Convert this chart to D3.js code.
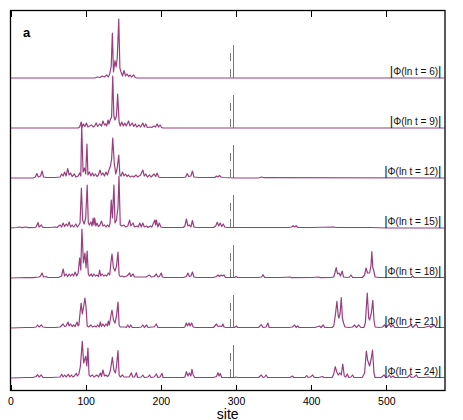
<!DOCTYPE html>
<meta charset="utf-8">
<style>
body { margin: 0; background: #fff; }
svg text { font-family: "Liberation Sans", Arial, sans-serif; }
.curve { fill: none; stroke: #983f80; stroke-width: 1.2; stroke-linejoin: round; }
.marker { stroke: #777; stroke-width: 1; shape-rendering: crispEdges; }
.tick line { shape-rendering: crispEdges; }
</style>
<body>
<div id="chart"></div>
<script src="https://cdn.jsdelivr.net/npm/d3@7"></script>
<script>

// |Phi| per site as [site, amplitude] pairs (amplitude in arbitrary units)
var phi6 = [[0,0],[112,0],[116,1],[119,0.5],[122,2],[125,1],[128,3],[130,1],[132,4],[134,12],[135.5,45],[137,6],
  [139,17.5],[140.5,11],[142,20],[144,59],[145.5,10],[147,6],[149,2],[151,7.5],[153,2],[155,4],[157,1.5],
  [159,3],[161,1],[164,3],[166,0.5],[168,0],[577,0]];

var phi9 = [[0,0],[90,0],[92,1],[94,6],[95.5,1],[97,4],[99,1.5],[101,5],[103,1],[105,2],[108,3],[110,1],
  [112,2],[114,5],[116,1.5],[118.6,4],[121,2],[123,7],[125,3],[126.6,4],[128,2],[129.7,8],[131,4],[132.5,8],
  [134.5,11],[136,52],[137.5,12],[139,8],[141,12],[142.5,34],[144.5,6],[146,2],[148,6],[150,2],[152,5],
  [154,2],[157,7],[159,2],[162,5],[164,1.5],[166,4],[168,1],[171,3],[173,1],[176,5],[178,1],[180,4],
  [182,0.5],[186,1],[188,0.5],[191,2],[193,1],[195,4],[197,1],[199,3],[201,0.5],[203,0],[577,0]];

var phi12 = [[0,0],[30,0],[33,1],[35,4.5],[37,1],[40,2],[42,7],[44,1],[48,0.5],[60,0.5],[66,1],[68,4],
  [70,2],[72,6],[74,2],[76,9.5],[78,3],[80,5],[82,1.5],[85,4],[87,1],[90,2],[92,5],[93.5,2],[94.7,53],
  [96.5,6],[98.5,10],[100,4],[101.7,34],[103,3],[105,6],[107,2],[109,5],[111,2],[113,4],[115,1.5],[117,3],
  [119,8],[121,3],[123,5],[125,2],[127,6],[129,3],[131,8],[133,12],[134.5,19],[136,40],[138,15],[140,4],
  [142,10],[144,23],[145.5,3],[147,2],[149,6],[151,2],[153,4],[155,1.5],[157,3],[159,1],[162,2],[164,1],
  [167,3],[169,1],[173,3],[176,8],[178,2],[180,4],[182,1],[185,3],[187,1],[191,4],[193,1.5],[195,5],
  [197,1],[200,0.5],[230,0.5],[233,1],[235,4.5],[237,1.5],[240,2],[242,7],[244,1],[250,0.5],[272,0.5],
  [274,2],[276,1],[278,2.5],[280,1],[283,0.5],[300,0],[330,0],[334,1],[337,0.3],[577,0]];

var phi15 = [[0,0],[8,0.5],[12,1],[16,0.3],[20,1],[24,0.3],[32,0.5],[34,1],[36.6,5.5],[38,1],[41,3],
  [43,0.5],[52,0.5],[60,1],[62,0.5],[66,3],[68,1],[70,5],[72,1.5],[74,4],[76,2],[78,6],[80,1],[82,3],
  [84,1],[87,4],[89,1],[91,3],[92.5,5],[94.3,40],[96,8],[98,4],[100,10],[102,43],[103.5,5],[105,3],
  [107,6],[108.5,2],[110,10],[111,3],[112,10],[113.5,2],[115,5],[117,1.5],[119,3],[121,7],[123,2],
  [125,3],[127,1],[129,3],[131,1],[132.5,5],[134,28],[135.5,10],[137.6,43],[139,5],[141,8],[143,21],
  [144.3,52],[146,3],[148,2],[151,3],[153,1],[156,2],[158.5,8],[160,2],[163,5],[165,1],[168,2],[170,1],
  [172,5],[174,1],[176,5],[178,1],[181,2],[183,0.5],[186,2],[188,1],[192,8],[193,3],[194,8],[196,1],
  [198,5],[200,1],[203,0.5],[230,0.5],[232,2],[234,9],[236,2],[238,3],[240,1],[242,7.5],[244,1],
  [248,0.5],[270,0.5],[273,2],[275,5.7],[277,2],[279,5],[281,1.5],[283,4],[285,1],[288,0.5],[300,0.5],
  [320,0.5],[340,0.5],[370,0.5],[374,1],[376,2.3],[378,1],[380,2.3],[382,0.5],[400,0.5],[430,1],
  [433,0.5],[460,0.5],[480,0.5],[500,0],[577,0]];

var phi18 = [[0,0],[20,0.5],[30,0.3],[38,1],[40,2],[42,5],[44,1],[47,1.5],[50,0.5],[64,0.5],[68,2],
  [70,9],[72,2],[74,4],[76,1.5],[78,4],[80,2],[82,4],[84,2],[86,6],[88,2],[90,5],[92,20],[93.5,8],
  [95,49],[97,15],[99,25],[100.5,10],[102,27],[103.5,4],[105,2],[107.5,4],[109,1.5],[111,4],[113,2],
  [115,3],[117,1.5],[118.6,8],[120,2],[122,4],[124,2],[126,3],[128,2],[130,5],[132,3],[133.5,15],
  [135,24],[137,10],[139,7],[141,12],[143,26],[144.5,3],[146,1.5],[149,2],[151,1],[155,2],[158.5,5],
  [160,1.5],[163,4],[165,1],[170,1],[175,1],[180,1],[185,3],[187,1],[191,1.5],[194,4],[196,1],
  [198,1.5],[200.6,5],[202,1],[205,0.5],[230,0.5],[234,1.5],[236,5],[238,1.5],[240,2],[242,6],[244,1],
  [248,0.5],[270,0.5],[274,1.5],[276,3],[278,1.5],[280,3],[282,2],[284,3],[286,0.5],[298,0.5],
  [300,1.5],[302,0.5],[330,0.5],[334,1],[336,3.3],[338,0.5],[360,0.5],[372,1],[374,0.3],[400,0.5],
  [410,1],[412,0.3],[426,0.5],[430,1],[431.5,5],[433.3,10.3],[435,4],[437,5],[439,2],[441.3,7],[443,1],
  [448,0.5],[451,1],[453,3],[455,0.5],[468,0.5],[471,3],[473,10],[475,5],[477.7,5],[479.5,12],
  [480.7,26.3],[482,10],[483,8],[485,1],[490,0.5],[510,0.5],[533,0.5],[535,2],[537,0.5],[560,0.5],
  [577,0.5]];

var phi21 = [[0,0],[20,0.5],[30,0.5],[34,1],[36,3],[38,1],[41,3],[43,1],[48,0.5],[60,0.5],[66,1],
  [70,4],[72,1.5],[74,2],[76.5,6],[78,2],[80,4],[82,1.5],[84,3],[86,1.5],[88.5,6],[90,2],[91,3],
  [92.5,15],[94,25],[95.5,14],[97,20],[99,30],[100.5,21],[102,2],[104,1],[107,3],[109,1],[112,2],
  [114,1],[116,3],[118,1],[119.5,6],[121,1.5],[123,4],[125,1.5],[127,4],[129,2],[130,7],[131.5,3],
  [133,10],[135,18],[137,8],[139,5],[141,12],[143,26],[144.5,3],[146,1],[149,1],[152,1],[154,0.5],
  [156,3],[158,0.5],[160,3],[162,0.5],[170,0.5],[174,1],[176,3],[178,0.5],[181,3],[183,0.5],[188,1],
  [191,1],[194,4],[196,0.5],[200,0.5],[230,0.5],[232,1],[234,5],[235.5,2],[237.5,5],[239,2],[241,5],
  [243,1],[246,0.5],[270,0.5],[274,4],[276,1.5],[279,2],[281,1.5],[282.6,4],[284,1],[287,0.5],
  [298,0.5],[300.4,2],[302,0.5],[330,0.5],[333.6,3.3],[336,0.5],[340,1],[342.4,5],[344,0.5],[370,0.5],
  [375,1],[378,3],[380,0.5],[382,2],[384,0.5],[405,0.5],[411,2],[413,0.5],[416,3],[418,0.5],[428,0.5],
  [430,2],[432,12],[434.2,26.7],[436,12],[437,10],[438.5,15],[440,30.3],[441.5,10],[443,5],[445,1],
  [450,0.5],[455,1],[457.7,3],[460,0.5],[463.4,3],[466,0.5],[470,0.5],[472,5],[474.6,35],[476.5,10],
  [477.7,8],[480,15],[482,27.7],[483.5,8],[485,1],[490,0.5],[495,1],[497.6,3],[500,1],[504,4],[506,1],
  [509,3],[511,0.5],[528,0.5],[533,3],[535,0.5],[539.8,4],[542,0.5],[550,0.5],[557.4,2],[559,0.5],
  [564,3],[566,0.5],[577,0.5]];

var phi24 = [[0,0],[20,0.5],[30,0.5],[34,1.5],[36,3.3],[38,1],[41,3],[43,0.5],[55,0.5],[66,1],
  [68,3.7],[70,1],[72,3],[74,1],[77,3.7],[79,1],[81,3],[83,1],[85,2],[87.6,4.7],[89,2],[91,4],[93,12],
  [95.5,36.6],[97.3,15],[100,21.7],[101.5,12],[103,30],[104.5,3],[106,1.5],[109,3],[111,1],[115,3],
  [117,1],[119.6,5],[121,1.5],[123,8],[125,2],[127,3],[129,1.5],[131,3],[133,8],[135.5,20.7],
  [137.5,8],[139.5,5],[141,12],[143,27.5],[144.5,3],[146,1],[149,3],[151,1],[155,1],[158,1],
  [160.7,5.3],[162.5,1],[165,1],[167.4,5.3],[169,0.5],[174,1],[176,3],[178,0.5],[183,1],[185,3],
  [187,0.5],[191,1],[194,4],[196,0.5],[199,1],[201.5,4.7],[203,0.5],[230,0.5],[232,1],[234,6.3],
  [236,2],[238,5],[240,2],[241.4,8.7],[243,3],[245,0.5],[270,0.5],[274,1.5],[276,5.3],[277.5,2],
  [279,4.5],[281,0.5],[298,0.5],[300,1],[302,0.5],[330,0.5],[333.6,3],[336,0.5],[338,1],[340,3],
  [342,0.5],[372,0.5],[375,2],[377,0.5],[392,0.5],[394,2.5],[396,0.5],[399,1],[402,3],[404,0.5],
  [410,0.5],[415,1.5],[417,0.5],[428,0.5],[430,4],[432,11.3],[434,6],[436,3],[438,5],[440,3],[442,14],
  [444,2],[446,1],[448,4],[450,0.5],[453,1],[455,3],[457,0.5],[468,0.5],[471,5],[473.4,27],[475,18],
  [477.7,12],[480,20],[481.6,28],[483.5,5],[485,0.5],[493,0.5],[497,3],[499,0.5],[502,1],[504,3],
  [506,0.5],[509,2],[511,0.5],[528,0.5],[531,3],[533,0.5],[537,1],[540,3],[542,0.5],[550,0.5],
  [557,1],[559,0.5],[577,0.5]];

var lnTimes = [6, 9, 12, 15, 18, 21, 24];
var series = [phi6, phi9, phi12, phi15, phi18, phi21, phi24];
var xTicks = [0, 100, 200, 300, 400, 500];
var markerSites = [292, 296];   // dashed, solid

var width = 463, height = 420;
// note: "top" is taken by window.top, so keep frame edges in an object
var frame = { left: 10.5, right: 445, top: 10.5, bottom: 390.5 };

var svg = d3.select("#chart").append("svg")
    .attr("width", width)
    .attr("height", height);

var x = d3.scaleLinear().domain([0, 578]).range([frame.left, frame.right]);

// baseline of each panel
var panel = d3.scaleLinear().domain([0, lnTimes.length - 1]).range([78, 378]);

// amplitude -> pixels above baseline
var amp = d3.scaleLinear().domain([0, 60]).range([0, 60]);

var line = d3.line()
    .x(function(d) { return x(d[0]); });

var panels = svg.selectAll("g.panel")
    .data(series)
    .enter().append("g")
    .attr("class", "panel")
    .attr("transform", function(d, i) { return "translate(0," + panel(i) + ")"; });

// reference sites
panels.append("line")
    .attr("class", "marker")
    .attr("x1", x(markerSites[0])).attr("x2", x(markerSites[0]))
    .attr("y1", -amp(25)).attr("y2", 0)
    .attr("stroke-dasharray", "8,8");

panels.append("line")
    .attr("class", "marker")
    .attr("x1", x(markerSites[1])).attr("x2", x(markerSites[1]))
    .attr("y1", -amp(33)).attr("y2", 0);

panels.append("path")
    .attr("class", "curve")
    .attr("d", function(d) { return line.y(function(p) { return -amp(p[1]); })(d); });

var label = panels.append("text")
    .attr("x", 441.5)
    .attr("y", -3)
    .attr("text-anchor", "end")
    .attr("fill", "#111");
label.append("tspan").attr("font-size", "13px").text("|");
label.append("tspan").attr("font-size", "10px")
    .text(function(d, i) { return "Φ(ln t = " + lnTimes[i] + ")"; });
label.append("tspan").attr("font-size", "13px").text("|");

// frame
svg.append("rect")
    .attr("x", frame.left).attr("y", frame.top)
    .attr("width", frame.right - frame.left).attr("height", frame.bottom - frame.top)
    .attr("fill", "none")
    .attr("stroke", "#000")
    .attr("stroke-width", 1.3);

var axisBottom = d3.axisBottom(x).tickValues(xTicks).tickSizeInner(-6).tickSizeOuter(0).tickPadding(7);
var gx = svg.append("g")
    .attr("transform", "translate(0," + frame.bottom + ")")
    .call(axisBottom);
gx.select(".domain").remove();
gx.selectAll("text").attr("font-size", "10.5px").attr("font-family", "Liberation Sans, Arial, sans-serif").attr("fill", "#000");

var axisTop = d3.axisTop(x).tickValues(xTicks).tickSizeInner(-6).tickSizeOuter(0).tickFormat("");
var gt = svg.append("g")
    .attr("transform", "translate(0," + frame.top + ")")
    .call(axisTop);
gt.select(".domain").remove();

svg.append("text")
    .attr("x", (frame.left + frame.right) / 2)
    .attr("y", 418.5)
    .attr("text-anchor", "middle")
    .attr("font-size", "14px")
    .text("site");

svg.append("text")
    .attr("x", 23)
    .attr("y", 37)
    .attr("font-size", "13px")
    .attr("font-weight", "bold")
    .text("a");

</script>
</body>
